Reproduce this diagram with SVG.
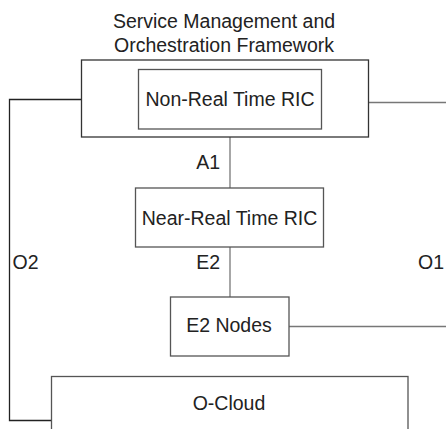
<svg xmlns="http://www.w3.org/2000/svg" width="446" height="429" viewBox="0 0 446 429">
<style>
text{font-family:"Liberation Sans",Arial,Helvetica,sans-serif;font-size:19.5px;fill:#222}
.c{text-anchor:middle}
.box{fill:#fff;stroke:#555;stroke-width:1.3}
.outer{fill:#fff;stroke:#333;stroke-width:1.3}
.link{fill:none;stroke:#777;stroke-width:1.3}
.o2{fill:none;stroke:#222;stroke-width:1.3}
</style>
<rect width="446" height="429" fill="#fff"/>
<g id="connectors">
<polyline class="o2" points="81.5,99.5 9.5,99.5 9.5,420.5 51.5,420.5"/>
<line class="link" x1="368.5" y1="102.5" x2="446" y2="102.5"/>
<line class="link" x1="289" y1="326.5" x2="446" y2="326.5"/>
<line class="link" x1="230" y1="129" x2="230" y2="188"/>
<line class="link" x1="230" y1="247" x2="230" y2="297"/>
<text x="220" y="168.5" text-anchor="end">A1</text>
<text x="220" y="268.5" text-anchor="end">E2</text>
<text x="12.5" y="268.5">O2</text>
<text x="444" y="268.5" text-anchor="end">O1</text>
</g>
<g id="smo">
<text class="c" x="224" y="28">Service Management and</text>
<text class="c" x="224" y="51.5">Orchestration Framework</text>
<rect class="outer" x="81.5" y="60" width="287" height="77"/>
</g>
<g id="nonrt-ric">
<rect class="box" x="138.5" y="69.5" width="183" height="59.5"/>
<text class="c" x="230" y="106.3">Non-Real Time RIC</text>
</g>
<g id="nearrt-ric">
<rect class="box" x="135.5" y="188" width="188" height="59"/>
<text class="c" x="229.5" y="225">Near-Real Time RIC</text>
</g>
<g id="e2-nodes">
<rect class="box" x="170.5" y="297" width="118.5" height="59"/>
<text class="c" x="229" y="331.7">E2 Nodes</text>
</g>
<g id="o-cloud">
<rect class="box" x="51.5" y="376.5" width="356.5" height="70"/>
<text class="c" x="229" y="410">O-Cloud</text>
</g>
</svg>
